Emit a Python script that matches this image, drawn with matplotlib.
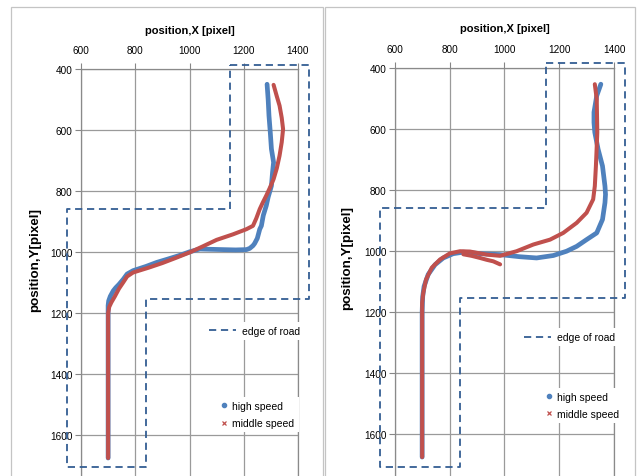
import numpy as np
import matplotlib.pyplot as plt
from matplotlib.lines import Line2D
from matplotlib.patches import Rectangle

# road edge (same course in both runs)
road_x = [1150, 1440, 1440, 838, 838, 548, 548, 1150, 1150]
road_y = [386, 386, 1155, 1155, 1706, 1706, 860, 860, 386]

# left run
high_l_x = [1286, 1290, 1293, 1298, 1302, 1310, 1306, 1302, 1290, 1283, 1272, 1265, 1259, 1250,
            1240, 1234, 1222, 1210, 1170, 1124, 1080, 1038, 1001, 960, 920, 879, 840, 792,
            770, 756, 740, 728, 719, 708, 702, 700, 700, 700]
high_l_y = [450, 500, 553, 610, 662, 706, 740, 783, 820, 848, 880, 914, 925, 955,
            972, 979, 988, 992, 993, 992, 991, 990, 999, 1012, 1023, 1034, 1047, 1061,
            1072, 1089, 1106, 1117, 1127, 1145, 1160, 1175, 1400, 1675]
mid_l_x = [1310, 1322, 1332, 1340, 1345, 1340, 1332, 1322, 1310, 1296, 1283, 1270, 1259, 1246,
           1234, 1210, 1160, 1100, 1050, 1001, 950, 900, 850, 792, 770, 756, 740, 725,
           712, 704, 700, 700, 700]
mid_l_y = [452, 490, 520, 560, 597, 640, 684, 725, 761, 790, 815, 838, 859, 890,
           914, 925, 942, 960, 981, 1001, 1019, 1036, 1051, 1067, 1080, 1099, 1120, 1145,
           1165, 1180, 1200, 1400, 1675]

# right run
high_r_x = [1351, 1336, 1326, 1326, 1329, 1341, 1357, 1366, 1368, 1366, 1357, 1336, 1299, 1263,
            1226, 1178, 1117, 1056, 983, 911, 850, 813, 777, 747, 722, 707, 702, 700, 700]
high_r_y = [454, 492, 546, 580, 612, 667, 722, 788, 815, 842, 897, 941, 963, 985,
            1001, 1015, 1023, 1019, 1012, 1009, 1004, 1009, 1023, 1045, 1077, 1116, 1149, 1200, 1675]
mid_r_x = [1329, 1336, 1338, 1335, 1333, 1329, 1323, 1299, 1263, 1214, 1166, 1105, 1044, 984,
           935, 874, 838, 801, 765, 735, 714, 704, 700, 700, 700]
mid_r_y = [454, 503, 612, 680, 722, 788, 831, 875, 908, 941, 963, 979, 1001, 1016,
           1012, 1002, 1001, 1008, 1028, 1055, 1094, 1138, 1170, 1400, 1675]
# small hook of the middle-speed run
hook_r_x = [850, 880, 911, 935, 959, 984]
hook_r_y = [1011, 1016, 1023, 1029, 1034, 1044]

x_ticks = [600, 800, 1000, 1200, 1400]
y_ticks = [400, 600, 800, 1000, 1200, 1400, 1600]

BLUE = '#4F81BD'
RED = '#C0504D'
ROAD = '#345E93'
GRID = '#9A9A9A'
plt.rcParams['font.family'] = ['Liberation Sans', 'DejaVu Sans']

fig = plt.figure(figsize=(6.43, 4.77), dpi=100)
W, H = 643.0, 477.0

# chart area frames
for x0, x1 in [(11, 322.5), (325, 635)]:
    fig.patches.append(Rectangle((x0 / W, -0.05), (x1 - x0) / W, 1.05 - 8 / H,
                                 transform=fig.transFigure, fill=False,
                                 edgecolor='#C4C4C4', lw=0.9))


def panel(rect, ybot, hx, hy, mx, my, leg1, leg2, ylab_pos, extra=None):
    ax = fig.add_axes(rect)
    ax.set_xlim(600, 1400)
    ax.set_ylim(ybot, 400)
    ax.xaxis.tick_top()
    ax.xaxis.set_label_position('top')
    ax.set_xticks(x_ticks)
    ax.set_yticks(y_ticks)
    ax.tick_params(axis='both', direction='out', length=4, width=0.8, color='#868686',
                   labelsize=7.2)
    ax.tick_params(axis='x', pad=6)
    ax.tick_params(axis='y', pad=2)
    for s in ['left', 'top', 'right']:
        ax.spines[s].set_color('#8A8A8A')
        ax.spines[s].set_linewidth(0.9)
    ax.spines['bottom'].set_visible(False)
    ax.grid(True, color=GRID, lw=0.9)
    ax.set_axisbelow(True)

    ax.set_xlabel('position,X [pixel]', fontsize=8, fontweight='bold', labelpad=9)
    ax.set_ylabel('position,Y[pixel]', fontsize=9.6, fontweight='bold')
    ax.yaxis.set_label_coords(*ylab_pos)

    ax.plot(road_x, road_y, color=ROAD, lw=1.3, dashes=(4, 2.6), clip_on=False, zorder=3)
    ax.plot(hx, hy, color=BLUE, lw=3.4, solid_capstyle='round', solid_joinstyle='round', zorder=4)
    ax.plot(mx, my, color=RED, lw=2.9, solid_capstyle='round', solid_joinstyle='round', zorder=5)
    if extra is not None:
        ax.plot(extra[0], extra[1], color=RED, lw=2.9, solid_capstyle='round', zorder=5)

    road_h = Line2D([], [], color=ROAD, lw=1.3, dashes=(4, 2.6))
    l1 = ax.legend([road_h], ['edge of road'], loc='center left', bbox_to_anchor=leg1,
                   fontsize=7.5, frameon=True, framealpha=1, edgecolor='none',
                   fancybox=False, borderpad=0.4, borderaxespad=0, handlelength=2.6,
                   handletextpad=0.6)
    ax.add_artist(l1)
    hs = Line2D([], [], color=BLUE, marker='o', ms=3, ls='none')
    ms_ = Line2D([], [], color=RED, marker='x', ms=3, mew=0.9, ls='none')
    ax.legend([hs, ms_], ['high speed', 'middle speed'], loc='center left', bbox_to_anchor=leg2,
              fontsize=7.5, frameon=True, framealpha=1, edgecolor='none', fancybox=False,
              borderpad=0.4, borderaxespad=0, handlelength=0.7, handletextpad=0.4,
              labelspacing=0.7)
    return ax


panel([81 / W, 0, 217 / W, 1 - 70 / H], 1734, high_l_x, high_l_y, mid_l_x, mid_l_y,
      (0.57, 0.356), (0.625, 0.151), (-0.185, 0.533))
panel([394.7 / W, 0, 219.6 / W, 1 - 68.7 / H], 1737, high_r_x, high_r_y, mid_r_x, mid_r_y,
      (0.57, 0.340), (0.668, 0.173), (-0.19, 0.536), extra=(hook_r_x, hook_r_y))

fig.savefig('out.png', dpi=100, facecolor='white')
